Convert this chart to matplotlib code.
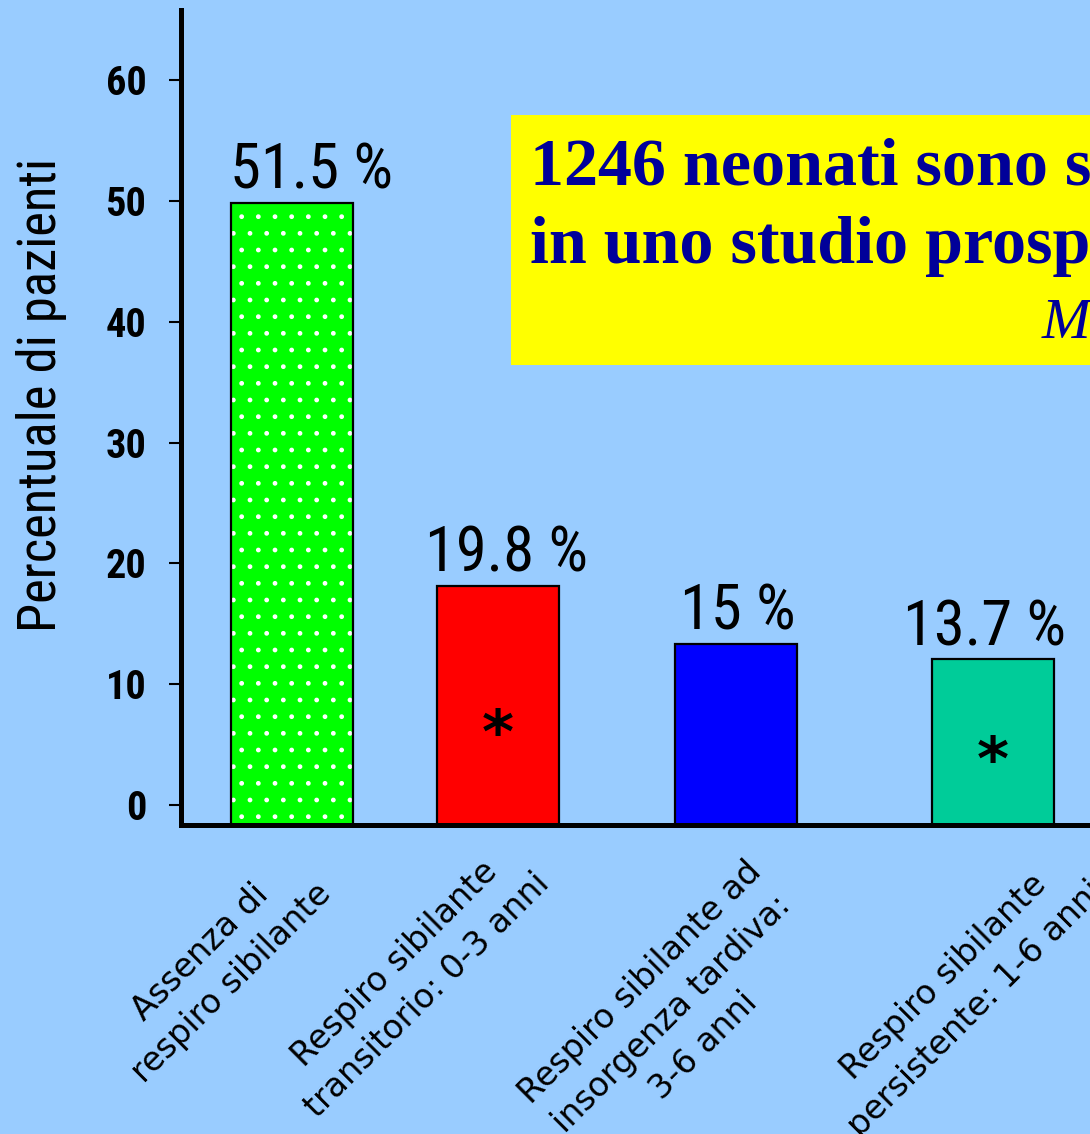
import matplotlib
matplotlib.use("Agg")
import matplotlib.pyplot as plt
from matplotlib.patches import Rectangle

# ---- data -------------------------------------------------------------
categories = [
    "Assenza di\nrespiro sibilante",
    "Respiro sibilante\ntransitorio: 0-3 anni",
    "Respiro sibilante ad\ninsorgenza tardiva:\n3-6 anni",
    "Respiro sibilante\npersistente: 1-6 anni",
]
percentages = [51.5, 19.8, 15.0, 13.7]
value_labels = ["51.5 %", "19.8 %", "15 %", "13.7 %"]
significant = [False, True, False, True]
bar_colors = ["#00FF00", "#FF0000", "#0000FF", "#00CC99"]
y_ticks = [0, 10, 20, 30, 40, 50, 60]
y_label = "Percentuale di pazienti"
title_lines = ["1246 neonati sono stati seguiti", "in uno studio prospettico"]
citation = "Martinez et al., N Engl J Med 1995"

# ---- layout -----------------------------------------------------------
BG = "#99CCFF"
NARROW = ["Liberation Sans Narrow", "Roboto Condensed", "Roboto", "DejaVu Sans"]
SERIF = ["Liberation Serif", "DejaVu Serif"]
W, H = 1090, 1134
BASE = -1.65                      # y value where the bars and the x axis sit
bar_x = [111, 317, 555, 812]      # bar centres along the axis
bar_w = 122
value_dx = [14, 6, 1, -6]         # small horizontal nudges of the value labels (pt)
label_pos = [(35, -0.175), (230, -0.190), (491, -0.232), (779, -0.206)]

fig = plt.figure(figsize=(W / 100, H / 100), dpi=100, facecolor=BG)
ax = fig.add_axes([181 / W, 1 - 825 / H, (W - 181) / W, (825 - 10) / H])
ax.set_facecolor(BG)
ax.set_xlim(0, W - 181)
ax.set_ylim(BASE, 65.8)

# bars: green one carries a white dot texture
heights = percentages
for i, (x, v, c) in enumerate(zip(bar_x, heights, bar_colors)):
    if i == 0:
        ax.bar(x, v, width=bar_w, bottom=BASE, color=c, edgecolor="white",
               linewidth=0, hatch=".", zorder=2)
    else:
        ax.bar(x, v, width=bar_w, bottom=BASE, color=c, linewidth=0, zorder=2)
    ax.bar(x, v, width=bar_w, bottom=BASE, fill=False, edgecolor="black",
           linewidth=1.6, zorder=3)

# value labels above the bars
for x, v, txt, dx in zip(bar_x, heights, value_labels, value_dx):
    ax.annotate(txt, (x, BASE + v), xytext=(dx, 10), textcoords="offset points",
                ha="center", va="baseline", fontsize=45, family=NARROW,
                color="black")

# significance markers
for x, v, sig in zip(bar_x, heights, significant):
    if sig:
        ax.text(x, BASE + 0.37 * v, "*", ha="center", va="center",
                fontsize=44, fontweight="bold", family="DejaVu Sans",
                color="black", zorder=4)

# category labels, rotated
for (lx, ly), txt in zip(label_pos, categories):
    ax.text(lx, ly, txt, transform=ax.get_xaxis_transform(), rotation=45,
            rotation_mode="anchor", ha="center", va="center",
            multialignment="center", fontsize=24, family="DejaVu Sans",
            linespacing=1.45, color="black", clip_on=False)

# axes styling
for s in ("top", "right"):
    ax.spines[s].set_visible(False)
for s in ("left", "bottom"):
    ax.spines[s].set_linewidth(3.6)
    ax.spines[s].set_color("black")
ax.set_xticks([])
ax.set_yticks(y_ticks)
ax.set_yticklabels([str(t) for t in y_ticks], fontsize=29, fontweight="bold",
                   family=NARROW)
ax.tick_params(axis="y", direction="out", length=9, width=1.5, pad=16,
               color="black")
ax.set_ylabel(y_label, fontsize=38, family=NARROW, va="center")
ax.yaxis.set_label_coords((42 - 181) / (W - 181), (825 - 395) / (825 - 10))

# highlighted study description
fig.add_artist(Rectangle((511 / W, 1 - 365 / H), 1.2, 250 / H,
                         transform=fig.transFigure, facecolor="#FFFF00",
                         edgecolor="none", zorder=5))
fig.text(530 / W, 1 - 185 / H, title_lines[0], ha="left", va="baseline",
         fontsize=49, fontweight="bold", family=SERIF, color="#000099",
         zorder=6)
fig.text(530 / W, 1 - 263 / H, title_lines[1], ha="left", va="baseline",
         fontsize=49, fontweight="bold", family=SERIF, color="#000099",
         zorder=6)
fig.text(1042 / W, 1 - 338 / H, citation, ha="left", va="baseline",
         fontsize=42, style="italic", family=SERIF, color="#000099",
         zorder=6)

fig.savefig("out.png", dpi=100, facecolor=BG)
